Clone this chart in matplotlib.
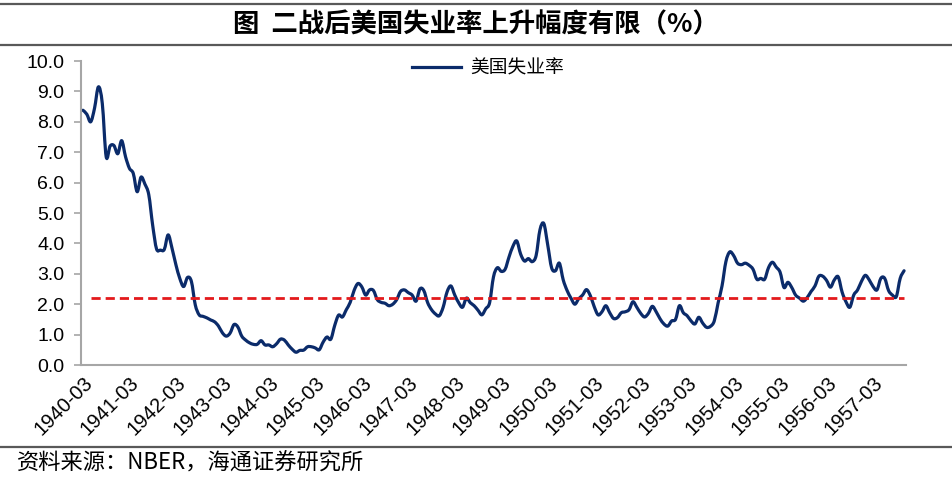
import matplotlib
matplotlib.use("Agg")
import matplotlib.pyplot as plt
from matplotlib.lines import Line2D
from matplotlib.path import Path
from matplotlib.patches import PathPatch
import pandas as pd

plt.rcParams['font.family'] = ['Liberation Sans', 'Noto Sans CJK SC', 'DejaVu Sans']

# ---- data ----
months = [p.strftime('%Y-%m') for p in pd.period_range('1940-03', periods=213, freq='M')]

unemployment = [
    # 1940-03 .. 1942-08
    8.38, 8.25, 8.00, 8.45, 9.15, 8.60, 6.85, 7.20, 7.22, 6.95,
    7.38, 6.85, 6.47, 6.30, 5.70, 6.18, 5.95, 5.60, 4.60, 3.82,
    3.78, 3.80, 4.28, 3.84, 3.30, 2.85, 2.58, 2.88, 2.75, 1.98,
    # 1942-09 .. 1945-04
    1.65, 1.60, 1.55, 1.48, 1.42, 1.28, 1.06, 0.95, 1.05, 1.33,
    1.25, 0.95, 0.82, 0.73, 0.68, 0.68, 0.80, 0.66, 0.66, 0.60,
    0.70, 0.85, 0.82, 0.66, 0.52, 0.42, 0.48, 0.49, 0.60, 0.60,
    0.56, 0.50,
    # 1945-05 .. 1947-11
    0.75, 0.92, 0.85, 1.30, 1.64, 1.58, 1.82, 2.06, 2.45, 2.68,
    2.57, 2.30, 2.47, 2.45, 2.15, 2.06, 2.03, 1.95, 2.00, 2.15,
    2.42, 2.47, 2.38, 2.30, 2.10, 2.50, 2.45, 2.05, 1.82, 1.68,
    1.62,
    # 1947-12 .. 1950-06
    1.90, 2.40, 2.60, 2.30, 2.05, 1.90, 2.20, 2.05, 1.95, 1.80,
    1.65, 1.85, 2.05, 2.90, 3.20, 3.08, 3.15, 3.55, 3.90, 4.08,
    3.65, 3.42, 3.50, 3.40, 3.60, 4.45, 4.65, 3.95, 3.20, 3.10,
    3.35,
    # 1950-07 .. 1953-01
    2.80, 2.45, 2.20, 2.00, 2.18, 2.30, 2.48, 2.28, 1.92, 1.65,
    1.75, 1.95, 1.72, 1.53, 1.56, 1.72, 1.75, 1.82, 2.08, 1.90,
    1.70, 1.58, 1.70, 1.93, 1.75, 1.52, 1.35, 1.28, 1.45, 1.50,
    1.95,
    # 1953-02 .. 1955-07
    1.72, 1.62, 1.45, 1.35, 1.57, 1.38, 1.24, 1.27, 1.45, 2.05,
    2.60, 3.40, 3.72, 3.60, 3.35, 3.30, 3.35, 3.28, 3.15, 2.82,
    2.85, 2.82, 3.20, 3.38, 3.22, 3.05, 2.55, 2.72, 2.55, 2.30,
    # 1955-08 .. 1957-11
    2.20, 2.10, 2.22, 2.42, 2.60, 2.92, 2.92, 2.78, 2.56, 2.80,
    2.90, 2.40, 2.08, 1.90, 2.30, 2.47, 2.75, 2.95, 2.80, 2.58,
    2.47, 2.85, 2.85, 2.45, 2.30, 2.25, 2.85, 3.10,
]

threshold = 2.2
tick_labels = months[::12]

title_text = "图  二战后美国失业率上升幅度有限（%）"
legend_label = "美国失业率"
source_text = "资料来源：NBER，海通证券研究所"

LINE_COLOR = '#0B2B6A'
DASH_COLOR = '#E31A1C'


def smooth_path(xs, ys):
    """Excel-style smoothed line: cubic Bezier segments through every data point."""
    n = len(xs)
    verts = [(xs[0], ys[0])]
    codes = [Path.MOVETO]
    for i in range(n - 1):
        x0, y0 = xs[max(i - 1, 0)], ys[max(i - 1, 0)]
        x1, y1 = xs[i], ys[i]
        x2, y2 = xs[i + 1], ys[i + 1]
        x3, y3 = xs[min(i + 2, n - 1)], ys[min(i + 2, n - 1)]
        c1 = (x1 + (x2 - x0) / 6.0, y1 + (y2 - y0) / 6.0)
        c2 = (x2 - (x3 - x1) / 6.0, y2 - (y3 - y1) / 6.0)
        verts += [c1, c2, (x2, y2)]
        codes += [Path.CURVE4] * 3
    return Path(verts, codes)


# ---- figure ----
W, H = 952, 478
fig = plt.figure(figsize=(W / 100, H / 100), dpi=100)
ax = fig.add_axes([81 / W, 1 - 365 / H, 825 / W, 304 / H])

x = list(range(len(unemployment)))
patch = PathPatch(smooth_path(x, unemployment), facecolor='none',
                  edgecolor=LINE_COLOR, lw=2.3, joinstyle='round', capstyle='round')
ax.add_patch(patch)
ax.plot(x[2:], [threshold] * len(x[2:]), color=DASH_COLOR, lw=2.0,
        dashes=(3.3, 1.8))

ax.set_xlim(-0.5, len(unemployment) - 0.5)
ax.set_ylim(0, 10)
ax.set_yticks([i for i in range(11)])
ax.set_yticklabels([f"{v:.1f}" for v in range(11)])
ax.set_xticks(x[::12])
ax.set_xticklabels(tick_labels, rotation=45, ha='right', va='top',
                   rotation_mode='anchor')

for s in ['top', 'right']:
    ax.spines[s].set_visible(False)
for s in ['left', 'bottom']:
    ax.spines[s].set_color('#A6A6A6')
    ax.spines[s].set_linewidth(1.5)

ax.tick_params(axis='y', direction='out', length=5, width=1.2, color='#A6A6A6',
               labelsize=14, pad=7, labelcolor='black')
ax.tick_params(axis='x', length=0, labelsize=14.5, pad=6, labelcolor='black')

handle = Line2D([], [], color=LINE_COLOR, lw=2.3)
ax.legend([handle], [legend_label], loc='center', bbox_to_anchor=(0.493, 0.977),
          frameon=False, handlelength=2.6, handletextpad=0.5,
          prop={'family': ['Noto Sans CJK SC'], 'size': 13.5})

# title and decorations
fig.text(0.5, 1 - 25 / H, title_text, ha='center', va='center',
         fontsize=19, fontweight='bold', family=['Noto Sans CJK SC', 'DejaVu Sans'])
fig.add_artist(Line2D([0, 1], [1 - 4 / H, 1 - 4 / H], color='#595959', lw=1.6))
fig.add_artist(Line2D([0, 1], [1 - 45 / H, 1 - 45 / H], color='#595959', lw=1.6))
fig.add_artist(Line2D([0, 1], [1 - 447 / H, 1 - 447 / H], color='#595959', lw=1.6))
fig.text(17 / W, 1 - 463 / H, source_text, ha='left', va='center',
         fontsize=16, family=['Noto Sans CJK SC', 'DejaVu Sans'])

fig.savefig('out.png', dpi=100)
